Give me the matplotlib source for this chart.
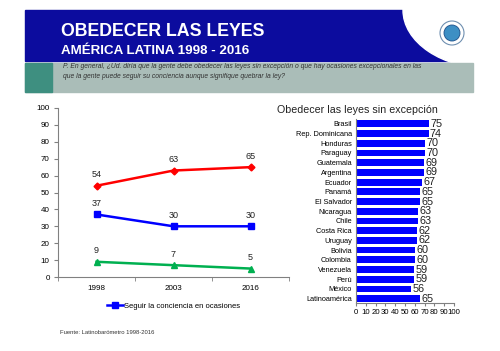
import matplotlib
matplotlib.use("Agg")
import matplotlib.pyplot as plt
from matplotlib.patches import Rectangle, Ellipse, Circle

plt.rcParams["font.family"] = ["Liberation Sans", "DejaVu Sans"]

years = ["1998", "2003", "2016"]
obedecer = [54, 63, 65]
conciencia = [37, 30, 30]
nsnr = [9, 7, 5]

paises = ["Brasil", "Rep. Dominicana", "Honduras", "Paraguay", "Guatemala",
          "Argentina", "Ecuador", "Panamá", "El Salvador", "Nicaragua", "Chile",
          "Costa Rica", "Uruguay", "Bolivia", "Colombia", "Venezuela", "Perú",
          "México", "Latinoamérica"]
valores = [75, 74, 70, 70, 69, 69, 67, 65, 65, 63, 63, 62, 62, 60, 60, 59, 59, 56, 65]

W, H = 500, 351
fig = plt.figure(figsize=(5, 3.51), dpi=100)


def box(x0, y0, x1, y1):
    # pixel box (top-left origin) -> figure fraction rect
    return [x0 / W, 1 - y1 / H, (x1 - x0) / W, (y1 - y0) / H]


# header / decorations
bg = fig.add_axes([0, 0, 1, 1], zorder=0)
bg.set_xlim(0, W)
bg.set_ylim(H, 0)
bg.axis("off")
bg.add_patch(Rectangle((25, 10), 448, 51, color="#0c0c9e", zorder=1))
bg.add_patch(Ellipse((490, 10), 174, 117, color="white", zorder=2))
bg.add_patch(Rectangle((25, 63), 448, 29, color="#aabdb8", zorder=3))
bg.add_patch(Rectangle((25, 63), 27, 29, color="#3e8f80", zorder=4))
bg.add_patch(Circle((452, 33), 12, facecolor="white", edgecolor="#6f8fb0", lw=0.8, zorder=4))
bg.add_patch(Circle((452, 33), 8, facecolor="#3d8fc4", edgecolor="#1c4f8a", lw=0.6, zorder=5))
bg.text(61, 31, "OBEDECER LAS LEYES", color="white", fontsize=12.8, fontweight="bold",
        va="center", ha="left", zorder=6)
bg.text(61, 51, "AMÉRICA LATINA 1998 - 2016", color="white", fontsize=9.6, fontweight="bold",
        va="center", ha="left", zorder=6)
bg.text(63, 67, "P. En general, ¿Ud. diría que la gente debe obedecer las leyes sin excepción "
        "o que hay ocasiones excepcionales en las", fontsize=4.9, style="italic",
        color="#333333", va="center", zorder=6)
bg.text(63, 77, "que la gente puede seguir su conciencia aunque signifique quebrar la ley?",
        fontsize=4.9, style="italic", color="#333333", va="center", zorder=6)
bg.text(60, 333, "Fuente: Latinobarómetro 1998-2016", fontsize=4.2, color="#333333",
        va="center", zorder=6)

# left: line chart
ax = fig.add_axes(box(58, 108, 289, 277), zorder=2)
ax.patch.set_alpha(0)
x = range(len(years))
ax.plot(x, obedecer, color="#ff0000", lw=1.8, marker="D", ms=3.5)
ax.plot(x, conciencia, color="#0000ff", lw=1.8, marker="s", ms=4.5,
        label="Seguir la conciencia en ocasiones")
ax.plot(x, nsnr, color="#00b050", lw=1.8, marker="^", ms=4.5)
for serie in (obedecer, conciencia, nsnr):
    for i, v in enumerate(serie):
        ax.annotate(str(v), (i, v), xytext=(0, 6), textcoords="offset points",
                    ha="center", fontsize=6.5, color="#222222")
ax.set_xlim(-0.5, 2.5)
ax.set_ylim(0, 100)
ax.set_yticks(range(0, 101, 10))
ax.set_xticks(list(x))
ax.set_xticklabels(years)
ax.set_xticks([-0.5, 0.5, 1.5, 2.5], minor=True)
ax.tick_params(axis="x", which="major", length=0, labelsize=5.8, pad=6)
ax.tick_params(axis="x", which="minor", length=3, color="#808080")
ax.tick_params(axis="y", length=3, labelsize=5.8, color="#808080", pad=3)
for s in ("top", "right"):
    ax.spines[s].set_visible(False)
for s in ("left", "bottom"):
    ax.spines[s].set_color("#808080")
    ax.spines[s].set_linewidth(0.8)
ax.legend(loc="upper center", bbox_to_anchor=(0.5, -0.11), frameon=False, fontsize=5.5,
          handlelength=2.2, handletextpad=0.1)

# right: bar chart
bx = fig.add_axes(box(356, 119, 454, 303), zorder=2)
bx.patch.set_alpha(0)
pos = range(len(paises))
bx.barh(pos, valores, height=0.7, color="#0000ff")
for i, v in enumerate(valores):
    bx.text(v + 1.5, i, str(v), va="center", ha="left", fontsize=7.8, color="#222222")
bx.set_ylim(18.45, -0.5)
bx.set_xlim(0, 100)
bx.set_yticks(list(pos))
bx.set_yticklabels(paises)
bx.set_xticks(range(0, 101, 10))
bx.tick_params(axis="y", length=0, labelsize=5.3, pad=3)
bx.tick_params(axis="x", length=2.5, labelsize=5.6, color="#808080", pad=2)
for s in ("top", "right"):
    bx.spines[s].set_visible(False)
for s in ("left", "bottom"):
    bx.spines[s].set_color("#808080")
    bx.spines[s].set_linewidth(0.8)
bx.set_title("Obedecer las leyes sin excepción", fontsize=7.7, loc="left",
             x=-0.81, pad=4, color="#222222")

fig.savefig("out.png", dpi=100)
